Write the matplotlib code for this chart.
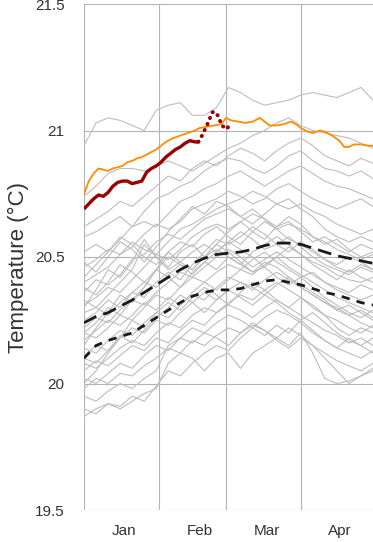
import numpy as np
import matplotlib
matplotlib.use("Agg")
import matplotlib.pyplot as plt

plt.rcParams['font.family'] = ['Liberation Sans', 'DejaVu Sans']

# day of year for the grey climatology years (every 5 days, Jan 1 .. Apr 30)
grey_days = [0, 5, 10, 15, 20, 25, 30, 35, 40, 45, 50, 55, 60,
             65, 70, 75, 80, 85, 90, 95, 100, 105, 110, 115, 120]

grey_years = [
    [20.94, 21.03, 21.05, 21.04, 21.02, 21.00, 21.08, 21.10, 21.11, 21.06, 21.06, 21.09, 21.17, 21.15, 21.12, 21.10, 21.11, 21.12, 21.14, 21.15, 21.14, 21.13, 21.15, 21.17, 21.12],
    [20.74, 20.78, 20.83, 20.85, 20.85, 20.84, 20.86, 20.88, 20.86, 20.84, 20.87, 20.90, 20.93, 20.95, 20.98, 21.00, 21.03, 21.05, 21.02, 21.00, 20.99, 20.98, 20.97, 20.95, 20.93],
    [20.58, 20.60, 20.63, 20.66, 20.62, 20.68, 20.73, 20.75, 20.78, 20.80, 20.84, 20.87, 20.89, 20.88, 20.85, 20.83, 20.86, 20.90, 20.92, 20.88, 20.85, 20.84, 20.82, 20.84, 20.81],
    [20.52, 20.55, 20.52, 20.57, 20.62, 20.64, 20.62, 20.67, 20.72, 20.74, 20.77, 20.79, 20.82, 20.84, 20.81, 20.78, 20.81, 20.84, 20.86, 20.83, 20.80, 20.78, 20.77, 20.75, 20.73],
    [20.46, 20.49, 20.53, 20.51, 20.54, 20.59, 20.63, 20.61, 20.64, 20.69, 20.71, 20.73, 20.76, 20.74, 20.71, 20.73, 20.77, 20.79, 20.76, 20.73, 20.71, 20.69, 20.71, 20.73, 20.70],
    [20.40, 20.43, 20.46, 20.51, 20.56, 20.53, 20.51, 20.56, 20.61, 20.63, 20.66, 20.69, 20.71, 20.73, 20.76, 20.74, 20.71, 20.69, 20.71, 20.68, 20.66, 20.63, 20.61, 20.59, 20.61],
    [20.36, 20.41, 20.39, 20.43, 20.49, 20.51, 20.56, 20.59, 20.57, 20.61, 20.65, 20.67, 20.69, 20.66, 20.63, 20.67, 20.71, 20.73, 20.69, 20.66, 20.61, 20.58, 20.56, 20.58, 20.56],
    [20.31, 20.34, 20.38, 20.36, 20.41, 20.46, 20.51, 20.49, 20.53, 20.58, 20.61, 20.63, 20.61, 20.64, 20.67, 20.65, 20.61, 20.63, 20.61, 20.58, 20.56, 20.53, 20.51, 20.49, 20.51],
    [20.42, 20.47, 20.52, 20.58, 20.55, 20.50, 20.47, 20.52, 20.56, 20.54, 20.59, 20.62, 20.58, 20.55, 20.60, 20.64, 20.61, 20.57, 20.55, 20.52, 20.49, 20.47, 20.50, 20.48, 20.45],
    [20.28, 20.30, 20.35, 20.40, 20.45, 20.55, 20.50, 20.45, 20.48, 20.52, 20.55, 20.52, 20.56, 20.60, 20.57, 20.53, 20.55, 20.58, 20.54, 20.50, 20.47, 20.45, 20.43, 20.46, 20.44],
    [20.25, 20.28, 20.33, 20.30, 20.36, 20.40, 20.38, 20.43, 20.47, 20.45, 20.50, 20.53, 20.50, 20.47, 20.52, 20.55, 20.58, 20.55, 20.51, 20.48, 20.46, 20.43, 20.41, 20.40, 20.42],
    [20.22, 20.26, 20.24, 20.29, 20.33, 20.31, 20.36, 20.40, 20.44, 20.42, 20.46, 20.50, 20.53, 20.50, 20.46, 20.49, 20.52, 20.49, 20.46, 20.43, 20.40, 20.38, 20.36, 20.39, 20.37],
    [20.20, 20.18, 20.22, 20.27, 20.25, 20.30, 20.35, 20.33, 20.38, 20.42, 20.40, 20.44, 20.47, 20.45, 20.49, 20.52, 20.48, 20.45, 20.42, 20.44, 20.40, 20.37, 20.35, 20.33, 20.35],
    [20.17, 20.21, 20.25, 20.23, 20.27, 20.32, 20.29, 20.34, 20.31, 20.36, 20.40, 20.37, 20.41, 20.45, 20.43, 20.47, 20.50, 20.46, 20.43, 20.40, 20.37, 20.34, 20.32, 20.30, 20.28],
    [20.14, 20.12, 20.17, 20.21, 20.19, 20.24, 20.28, 20.26, 20.31, 20.35, 20.33, 20.38, 20.42, 20.40, 20.37, 20.41, 20.44, 20.41, 20.38, 20.35, 20.32, 20.30, 20.27, 20.29, 20.26],
    [20.11, 20.15, 20.13, 20.18, 20.22, 20.20, 20.25, 20.23, 20.28, 20.32, 20.36, 20.33, 20.37, 20.40, 20.38, 20.35, 20.39, 20.42, 20.39, 20.36, 20.33, 20.29, 20.27, 20.24, 20.22],
    [20.08, 20.06, 20.10, 20.14, 20.17, 20.15, 20.20, 20.24, 20.22, 20.27, 20.30, 20.28, 20.32, 20.35, 20.33, 20.37, 20.40, 20.37, 20.34, 20.30, 20.27, 20.25, 20.22, 20.20, 20.23],
    [20.05, 20.09, 20.07, 20.11, 20.15, 20.13, 20.18, 20.16, 20.21, 20.25, 20.23, 20.28, 20.31, 20.29, 20.26, 20.30, 20.33, 20.30, 20.27, 20.24, 20.21, 20.19, 20.16, 20.18, 20.15],
    [20.02, 20.00, 20.04, 20.08, 20.06, 20.11, 20.15, 20.13, 20.18, 20.22, 20.20, 20.24, 20.27, 20.25, 20.22, 20.26, 20.29, 20.27, 20.24, 20.20, 20.17, 20.14, 20.12, 20.10, 20.13],
    [19.98, 20.02, 20.00, 20.04, 20.03, 20.07, 20.10, 20.14, 20.12, 20.17, 20.15, 20.19, 20.22, 20.20, 20.24, 20.21, 20.18, 20.22, 20.19, 20.15, 20.12, 20.09, 20.07, 20.05, 20.08],
    [19.95, 19.93, 19.97, 20.00, 19.98, 20.02, 20.05, 20.15, 20.18, 20.16, 20.20, 20.18, 20.15, 20.20, 20.23, 20.21, 20.17, 20.14, 20.18, 20.15, 20.10, 20.05, 20.00, 20.03, 20.06],
    [19.87, 19.90, 19.92, 19.90, 19.93, 19.96, 19.98, 20.08, 20.12, 20.10, 20.05, 20.10, 20.12, 20.06, 20.12, 20.15, 20.18, 20.15, 20.20, 20.12, 20.02, 20.00, 20.01, 20.03, 20.05],
    [19.90, 19.88, 19.92, 19.91, 19.95, 19.93, 19.99, 20.05, 20.03, 20.08, 20.12, 20.15, 20.13, 20.18, 20.22, 20.19, 20.23, 20.20, 20.25, 20.21, 20.17, 20.14, 20.18, 20.15, 20.12],
    [20.30, 20.37, 20.45, 20.42, 20.48, 20.57, 20.50, 20.46, 20.52, 20.55, 20.50, 20.55, 20.60, 20.64, 20.60, 20.57, 20.62, 20.66, 20.63, 20.58, 20.55, 20.57, 20.53, 20.50, 20.52],
    [20.38, 20.35, 20.40, 20.47, 20.44, 20.40, 20.45, 20.50, 20.47, 20.43, 20.48, 20.52, 20.56, 20.53, 20.50, 20.46, 20.50, 20.54, 20.51, 20.47, 20.44, 20.41, 20.45, 20.42, 20.40],
    [20.15, 20.22, 20.28, 20.35, 20.32, 20.38, 20.45, 20.42, 20.38, 20.44, 20.48, 20.45, 20.50, 20.47, 20.44, 20.48, 20.46, 20.42, 20.38, 20.35, 20.32, 20.29, 20.31, 20.28, 20.25],
    [20.00, 20.05, 20.12, 20.18, 20.25, 20.22, 20.28, 20.32, 20.29, 20.34, 20.38, 20.35, 20.31, 20.36, 20.40, 20.37, 20.33, 20.30, 20.34, 20.31, 20.27, 20.22, 20.19, 20.22, 20.20],
    [20.62, 20.65, 20.68, 20.72, 20.70, 20.74, 20.78, 20.82, 20.80, 20.85, 20.88, 20.86, 20.90, 20.93, 20.91, 20.88, 20.92, 20.95, 20.97, 20.94, 20.90, 20.88, 20.86, 20.89, 20.87],
    [20.48, 20.44, 20.50, 20.56, 20.53, 20.48, 20.54, 20.60, 20.65, 20.70, 20.67, 20.72, 20.70, 20.66, 20.69, 20.65, 20.62, 20.64, 20.60, 20.56, 20.58, 20.55, 20.52, 20.55, 20.53],
    [20.20, 20.24, 20.30, 20.27, 20.33, 20.38, 20.45, 20.52, 20.48, 20.45, 20.50, 20.55, 20.52, 20.48, 20.44, 20.46, 20.42, 20.39, 20.42, 20.38, 20.34, 20.31, 20.28, 20.26, 20.29],
    [20.10, 20.08, 20.13, 20.19, 20.16, 20.21, 20.26, 20.30, 20.35, 20.32, 20.28, 20.33, 20.37, 20.34, 20.31, 20.35, 20.32, 20.28, 20.25, 20.28, 20.24, 20.20, 20.17, 20.15, 20.18],
    [20.33, 20.30, 20.27, 20.32, 20.36, 20.34, 20.40, 20.44, 20.41, 20.47, 20.52, 20.57, 20.55, 20.58, 20.62, 20.59, 20.55, 20.52, 20.56, 20.53, 20.49, 20.46, 20.44, 20.47, 20.45],
]

# 1991-2020 mean (long dash) and 1982-2011 mean (short dash)
mean_new = [20.24, 20.265, 20.28, 20.305, 20.33, 20.36, 20.39, 20.42, 20.45, 20.475, 20.495, 20.51, 20.515,
            20.52, 20.53, 20.545, 20.555, 20.555, 20.55, 20.535, 20.52, 20.505, 20.495, 20.485, 20.475]
mean_old = [20.10, 20.15, 20.17, 20.185, 20.20, 20.23, 20.26, 20.29, 20.32, 20.345, 20.36, 20.37, 20.37,
            20.375, 20.39, 20.405, 20.41, 20.40, 20.39, 20.375, 20.36, 20.35, 20.335, 20.32, 20.31]

# previous year (orange)
prev_days = [0, 2, 4, 6, 8, 10, 12, 14, 16, 18, 20, 22, 24, 26, 28, 30, 32, 34, 37, 40, 43, 46, 48, 51, 54,
             57, 59, 61, 64, 67, 70, 73, 75, 77, 80, 83, 86, 88, 90, 93, 95, 98, 100, 103, 106, 108, 110,
             112, 115, 118, 120]
prev_vals = [20.75, 20.80, 20.83, 20.85, 20.845, 20.84, 20.85, 20.855, 20.86, 20.875, 20.88, 20.89, 20.895,
             20.905, 20.915, 20.925, 20.94, 20.955, 20.97, 20.98, 20.99, 21.0, 21.01, 21.015, 21.02,
             21.025, 21.05, 21.04, 21.035, 21.03, 21.035, 21.05, 21.035, 21.02, 21.02, 21.025, 21.035,
             21.025, 21.01, 20.995, 20.99, 21.0, 20.995, 20.98, 20.96, 20.935, 20.935, 20.945, 20.945,
             20.94, 20.94]

# current year (dark red) and its provisional tail (dotted)
cur_days = [0, 2, 4, 6, 8, 10, 12, 14, 16, 18, 20, 22, 24, 26, 28, 30, 32, 34, 36, 38, 40, 42, 44, 46, 47.5]
cur_vals = [20.69, 20.71, 20.73, 20.745, 20.74, 20.755, 20.78, 20.795, 20.80, 20.80, 20.79, 20.795, 20.80,
            20.835, 20.85, 20.86, 20.875, 20.895, 20.91, 20.925, 20.935, 20.95, 20.96, 20.955, 20.955]
tail_days = [47.5, 49, 50, 51, 52, 53, 54, 55, 56, 57, 58, 59, 60, 61]
tail_vals = [20.955, 20.98, 21.0, 21.02, 21.04, 21.07, 21.075, 21.065, 21.055, 21.02, 21.015, 21.005,
             21.015, 21.03]

month_starts = [0, 31, 59, 90]
month_label_pos = [16.6, 48.1, 75.9, 106.4]
month_labels = ['Jan', 'Feb', 'Mar', 'Apr']
y_ticks = [19.5, 20, 20.5, 21, 21.5]
y_labels = ['19.5', '20', '20.5', '21', '21.5']

fig = plt.figure(figsize=(3.73, 5.42), dpi=100)
ax = fig.add_axes([84 / 373, 32 / 542, 289 / 373, 506 / 542])

for vals in grey_years:
    ax.plot(grey_days, vals, color='#bdbdbd', lw=0.8, zorder=2)

ax.plot(grey_days, mean_new, color='#1a1a1a', lw=2.0, dashes=(5, 2.6), zorder=3)
ax.plot(grey_days, mean_old, color='#1a1a1a', lw=2.0, dashes=(3, 2.6), zorder=3)
ax.plot(prev_days, prev_vals, color='#ff8c00', lw=1.3, zorder=4)
ax.plot(tail_days, tail_vals, color='#9b0000', lw=2.8, dashes=(0.1, 1.6),
        dash_capstyle='round', zorder=5)
ax.plot(cur_days, cur_vals, color='#9b0000', lw=2.4, solid_capstyle='butt', zorder=5)

ax.set_xlim(0, 120)
ax.set_ylim(19.5, 21.5)
ax.set_xticks(month_starts)
ax.set_xticklabels([])
ax.set_xticks(month_label_pos, minor=True)
ax.set_xticklabels(month_labels, minor=True)
ax.set_yticks(y_ticks)
ax.set_yticklabels(y_labels)
ax.tick_params(axis='both', which='both', length=0, labelsize=11, colors='#333333')
ax.tick_params(axis='y', pad=14)
ax.tick_params(axis='x', which='minor', pad=10)
ax.grid(True, which='major', color='#b3b3b3', lw=0.8)
ax.set_axisbelow(True)
for s in ax.spines.values():
    s.set_visible(False)

ax.set_ylabel('Temperature (°C)', fontsize=16, color='#333333')
ax.yaxis.set_label_coords(-0.192, 0.48)

fig.savefig('out.png', dpi=100)
